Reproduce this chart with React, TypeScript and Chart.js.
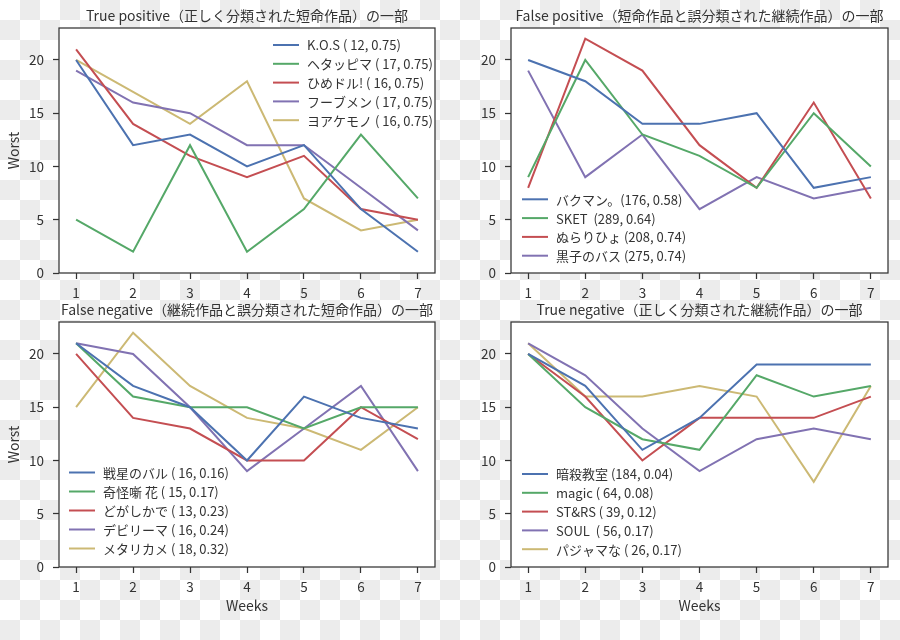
import React, { useEffect, useRef } from "react";
import { Chart, registerables } from "chart.js";

Chart.register(...registerables);

// ---------- data ----------
const WEEKS = [1, 2, 3, 4, 5, 6, 7];
const Y_TICKS = [0, 5, 10, 15, 20];

const TP_TITLE = "True positive（正しく分類された短命作品）の一部";
const TP_LABELS = ["K.O.S ( 12, 0.75)", "ヘタッピマ ( 17, 0.75)", "ひめドル! ( 16, 0.75)", "フーブメン ( 17, 0.75)", "ヨアケモノ ( 16, 0.75)"];
const TP_KOS = [20, 12, 13, 10, 12, 6, 2];
const TP_HETAPPIMA = [5, 2, 12, 2, 6, 13, 7];
const TP_HIMEDORU = [21, 14, 11, 9, 11, 6, 5];
const TP_FUUBUMEN = [19, 16, 15, 12, 12, 8, 4];
const TP_YOAKEMONO = [20, 17, 14, 18, 7, 4, 5];

const FP_TITLE = "False positive（短命作品と誤分類された継続作品）の一部";
const FP_LABELS = ["バクマン。(176, 0.58)", "SKET  (289, 0.64)", "ぬらりひょ (208, 0.74)", "黒子のバス (275, 0.74)"];
const FP_BAKUMAN = [20, 18, 14, 14, 15, 8, 9];
const FP_SKET = [9, 20, 13, 11, 8, 15, 10];
const FP_NURARIHYO = [8, 22, 19, 12, 8, 16, 7];
const FP_KUROKO = [19, 9, 13, 6, 9, 7, 8];

const FN_TITLE = "False negative（継続作品と誤分類された短命作品）の一部";
const FN_LABELS = ["戦星のバル ( 16, 0.16)", "奇怪噺 花 ( 15, 0.17)", "どがしかで ( 13, 0.23)", "デビリーマ ( 16, 0.24)", "メタリカメ ( 18, 0.32)"];
const FN_SENSEI = [21, 17, 15, 10, 16, 14, 13];
const FN_KIKAI = [21, 16, 15, 15, 13, 15, 15];
const FN_DOGASHI = [20, 14, 13, 10, 10, 15, 12];
const FN_DEBIRIMA = [21, 20, 15, 9, 13, 17, 9];
const FN_METARIKAME = [15, 22, 17, 14, 13, 11, 15];

const TN_TITLE = "True negative（正しく分類された継続作品）の一部";
const TN_LABELS = ["暗殺教室 (184, 0.04)", "magic ( 64, 0.08)", "ST&RS ( 39, 0.12)", "SOUL  ( 56, 0.17)", "パジャマな ( 26, 0.17)"];
const TN_ANSATSU = [20, 17, 11, 14, 19, 19, 19];
const TN_MAGIC = [20, 15, 12, 11, 18, 16, 17];
const TN_STARS = [20, 16, 10, 14, 14, 14, 16];
const TN_SOUL = [21, 18, 13, 9, 12, 13, 12];
const TN_PAJAMA = [21, 16, 16, 17, 16, 8, 17];

const COLORS = ["#4C72B0", "#55A868", "#C44E52", "#8172B2", "#CCB974"];
const Y_LABEL = "Worst";
const X_LABEL = "Weeks";

// ---------- layout / style ----------
const FONT = "'Noto Sans CJK JP', 'Noto Sans', sans-serif";
const TEXT = "#333333";

type Panel = {
  title: string;
  labels: string[];
  series: number[][];
  canvas: { left: number; top: number; w: number; h: number };
  area: { l: number; t: number; r: number; b: number };
  titleY: number;
  yTitle: boolean;
  xTitle: boolean;
  legend: { x: number; y0: number; dy: number };
};

const PANELS: Panel[] = [
  {
    title: TP_TITLE,
    labels: TP_LABELS,
    series: [TP_KOS, TP_HETAPPIMA, TP_HIMEDORU, TP_FUUBUMEN, TP_YOAKEMONO],
    canvas: { left: 0, top: 0, w: 450, h: 310 },
    area: { l: 59, t: 28, r: 435, b: 273 },
    titleY: 16,
    yTitle: true,
    xTitle: false,
    legend: { x: 214, y0: 17, dy: 18.8 },
  },
  {
    title: FP_TITLE,
    labels: FP_LABELS,
    series: [FP_BAKUMAN, FP_SKET, FP_NURARIHYO, FP_KUROKO],
    canvas: { left: 450, top: 0, w: 450, h: 310 },
    area: { l: 511, t: 28, r: 888, b: 273 },
    titleY: 16,
    yTitle: false,
    xTitle: false,
    legend: { x: 11, y0: 171.3, dy: 18.8 },
  },
  {
    title: FN_TITLE,
    labels: FN_LABELS,
    series: [FN_SENSEI, FN_KIKAI, FN_DOGASHI, FN_DEBIRIMA, FN_METARIKAME],
    canvas: { left: 0, top: 290, w: 450, h: 350 },
    area: { l: 59, t: 322, r: 435, b: 567 },
    titleY: 310,
    yTitle: true,
    xTitle: true,
    legend: { x: 10, y0: 150.5, dy: 19 },
  },
  {
    title: TN_TITLE,
    labels: TN_LABELS,
    series: [TN_ANSATSU, TN_MAGIC, TN_STARS, TN_SOUL, TN_PAJAMA],
    canvas: { left: 450, top: 290, w: 450, h: 350 },
    area: { l: 511, t: 322, r: 888, b: 567 },
    titleY: 310,
    yTitle: false,
    xTitle: true,
    legend: { x: 11, y0: 152, dy: 18.8 },
  },
];

function makeConfig(p: Panel): any {
  const padTop = p.area.t - p.canvas.top;
  const padRight = p.canvas.left + p.canvas.w - p.area.r;
  const yW = p.area.l - p.canvas.left;
  const xH = p.canvas.top + p.canvas.h - p.area.b;

  const panelPlugin = {
    id: "panelDecor",
    beforeDraw(chart: any) {
      const { ctx, chartArea: a } = chart;
      ctx.save();
      ctx.fillStyle = "#ffffff";
      ctx.fillRect(a.left, a.top, a.right - a.left, a.bottom - a.top);
      ctx.restore();
    },
    afterDraw(chart: any) {
      const { ctx, chartArea: a } = chart;
      ctx.save();
      // frame
      ctx.strokeStyle = "#333333";
      ctx.lineWidth = 1.25;
      ctx.strokeRect(a.left, a.top, a.right - a.left, a.bottom - a.top);
      // title
      ctx.fillStyle = TEXT;
      ctx.font = `14px ${FONT}`;
      ctx.textAlign = "center";
      ctx.textBaseline = "middle";
      ctx.fillText(p.title, (a.left + a.right) / 2, p.titleY - p.canvas.top);
      // axis titles
      ctx.font = `14px ${FONT}`;
      if (p.xTitle) {
        ctx.fillText(X_LABEL, (a.left + a.right) / 2, a.bottom + 39);
      }
      if (p.yTitle) {
        ctx.save();
        ctx.translate(14, (a.top + a.bottom) / 2);
        ctx.rotate(-Math.PI / 2);
        ctx.fillText(Y_LABEL, 0, 0);
        ctx.restore();
      }
      // legend
      ctx.font = `13px ${FONT}`;
      ctx.textAlign = "left";
      chart.data.datasets.forEach((ds: any, i: number) => {
        const y = a.top + p.legend.y0 + i * p.legend.dy;
        const x = a.left + p.legend.x;
        ctx.strokeStyle = ds.borderColor;
        ctx.lineWidth = 2;
        ctx.beginPath();
        ctx.moveTo(x, y);
        ctx.lineTo(x + 26, y);
        ctx.stroke();
        ctx.fillStyle = TEXT;
        ctx.fillText(ds.label, x + 34, y + 0.5);
      });
      ctx.restore();
    },
  };

  return {
    type: "line",
    data: {
      datasets: p.series.map((vals, i) => ({
        label: p.labels[i],
        data: vals.map((v, j) => ({ x: WEEKS[j], y: v })),
        borderColor: COLORS[i],
        backgroundColor: COLORS[i],
        borderWidth: 2,
        pointRadius: 0,
        tension: 0,
        fill: false,
      })),
    },
    options: {
      animation: false,
      responsive: false,
      devicePixelRatio: 1,
      layout: { padding: { top: padTop, right: padRight, left: 0, bottom: 0 } },
      plugins: {
        legend: { display: false },
        title: { display: false },
        tooltip: { enabled: false },
      },
      scales: {
        x: {
          type: "linear",
          min: 0.7,
          max: 7.3,
          afterBuildTicks: (s: any) => {
            s.ticks = WEEKS.map((v) => ({ value: v }));
          },
          afterFit: (s: any) => {
            s.height = xH;
          },
          grid: {
            display: true,
            drawOnChartArea: false,
            drawTicks: true,
            tickLength: 6,
            tickColor: "#333333",
            tickWidth: 1.25,
          },
          border: { display: false },
          ticks: {
            color: TEXT,
            font: { family: FONT, size: 13.5 },
            padding: 6,
            maxRotation: 0,
            autoSkip: false,
          },
        },
        y: {
          type: "linear",
          min: 0,
          max: 23,
          afterBuildTicks: (s: any) => {
            s.ticks = Y_TICKS.map((v) => ({ value: v }));
          },
          afterFit: (s: any) => {
            s.width = yW;
          },
          grid: {
            display: true,
            drawOnChartArea: false,
            drawTicks: true,
            tickLength: 6,
            tickColor: "#333333",
            tickWidth: 1.25,
          },
          border: { display: false },
          ticks: {
            color: TEXT,
            font: { family: FONT, size: 13.5 },
            padding: 9,
            autoSkip: false,
          },
        },
      },
    },
    plugins: [panelPlugin],
  };
}

function PanelChart({ p }: { p: Panel }) {
  const ref = useRef<HTMLCanvasElement | null>(null);
  useEffect(() => {
    if (!ref.current) return;
    const chart = new Chart(ref.current, makeConfig(p));
    return () => chart.destroy();
  }, [p]);
  return (
    <canvas
      ref={ref}
      width={p.canvas.w}
      height={p.canvas.h}
      style={{
        position: "absolute",
        left: p.canvas.left,
        top: p.canvas.top,
        width: p.canvas.w,
        height: p.canvas.h,
      }}
    />
  );
}

export default function App() {
  return (
    <div
      style={{
        position: "absolute",
        left: 0,
        top: 0,
        width: 900,
        height: 640,
        overflow: "hidden",
        backgroundColor: "#ffffff",
        backgroundImage:
          "conic-gradient(#ececec 0 25%, #ffffff 0 50%, #ececec 0 75%, #ffffff 0)",
        backgroundSize: "40px 40px",
      }}
    >
      {PANELS.map((p, i) => (
        <PanelChart key={i} p={p} />
      ))}
    </div>
  );
}
